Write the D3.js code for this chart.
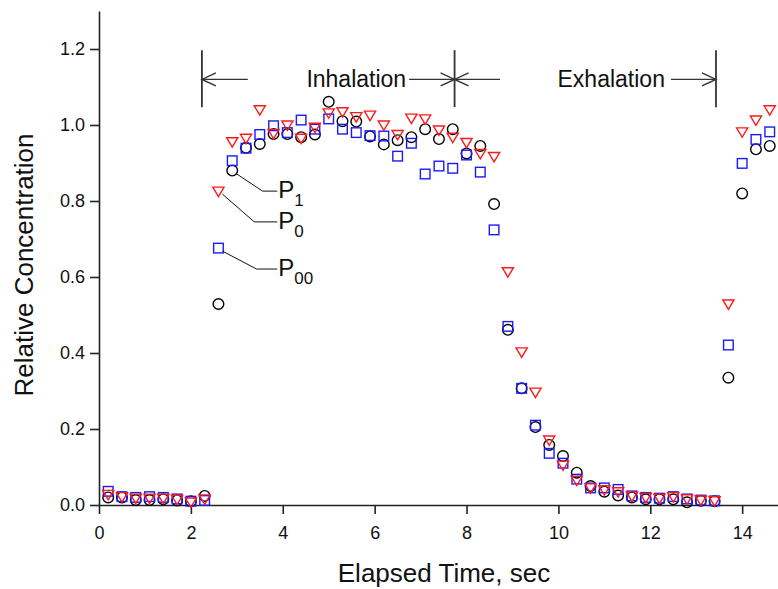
<!DOCTYPE html>
<html>
<head>
<meta charset="utf-8">
<script src="https://cdn.jsdelivr.net/npm/d3@7"></script>
<style>
  body { margin: 0; background: #fff; }
  svg { display: block; font-family: "Liberation Sans", Arial, sans-serif; }
</style>
</head>
<body>
<div id="plotContainer"></div>
<script>
// sampling times (sec)
const times = [0.2, 0.5, 0.8, 1.1, 1.4, 1.7, 2.0, 2.3, 2.6, 2.9, 3.2, 3.5, 3.8, 4.1, 4.4, 4.7,
  5.0, 5.3, 5.6, 5.9, 6.2, 6.5, 6.8, 7.1, 7.4, 7.7, 8.0, 8.3, 8.6, 8.9, 9.2, 9.5, 9.8,
  10.1, 10.4, 10.7, 11.0, 11.3, 11.6, 11.9, 12.2, 12.5, 12.8, 13.1, 13.4, 13.7, 14.0, 14.3, 14.6];

// P1 - black circles
const p1 = [0.020, 0.020, 0.013, 0.013, 0.015, 0.012, 0.010, 0.024, 0.529, 0.880, 0.940, 0.950, 0.976, 0.976, 0.968, 0.975,
  1.061, 1.010, 1.009, 0.970, 0.949, 0.960, 0.968, 0.989, 0.963, 0.989, 0.925, 0.945, 0.792, 0.461, 0.307, 0.205, 0.158,
  0.129, 0.085, 0.050, 0.035, 0.025, 0.020, 0.015, 0.015, 0.015, 0.007, 0.011, 0.010, 0.335, 0.820, 0.936, 0.945];

// P0 - red triangles
const p0 = [0.028, 0.022, 0.018, 0.018, 0.018, 0.015, 0.008, 0.016, 0.826, 0.956, 0.965, 1.040, 0.978, 1.000, 0.965, 0.994,
  1.032, 1.035, 1.022, 1.026, 1.000, 0.975, 1.018, 1.016, 0.987, 0.968, 0.954, 0.925, 0.917, 0.614, 0.403, 0.297, 0.171,
  0.105, 0.065, 0.045, 0.040, 0.035, 0.024, 0.020, 0.018, 0.022, 0.016, 0.013, 0.011, 0.529, 0.982, 1.013, 1.040];

// P00 - blue squares
const p00 = [0.036, 0.022, 0.020, 0.022, 0.020, 0.016, 0.010, 0.012, 0.676, 0.906, 0.939, 0.975, 0.998, 0.980, 1.013, 0.989,
  1.016, 0.989, 0.980, 0.972, 0.971, 0.918, 0.952, 0.871, 0.892, 0.886, 0.921, 0.876, 0.724, 0.470, 0.307, 0.210, 0.136,
  0.110, 0.068, 0.045, 0.045, 0.041, 0.024, 0.020, 0.018, 0.022, 0.016, 0.013, 0.011, 0.421, 0.899, 0.962, 0.982];

const xTicks = [0, 2, 4, 6, 8, 10, 12, 14];
const yTicks = [0.0, 0.2, 0.4, 0.6, 0.8, 1.0, 1.2];

// phase markers (sec) and labels
const phaseBounds = [2.24, 7.74, 13.43];
const phaseLabels = [{text: "Inhalation", x: 5.6}, {text: "Exhalation", x: 11.15}];

// leader callouts: point, elbow, label
const callouts = [
  {name: "P", sub: "1", t: 2.9, v: 0.880, ex: 3.56, ey: 0.826, lx: 3.88},
  {name: "P", sub: "0", t: 2.6, v: 0.826, ex: 3.38, ey: 0.745, lx: 3.88},
  {name: "P", sub: "00", t: 2.6, v: 0.676, ex: 3.43, ey: 0.621, lx: 3.88}
];

const W = 778, H = 589;
const margin = {top: 11, right: 0, bottom: 84, left: 99};

const x = d3.scaleLinear().domain([0, 14.78]).range([margin.left, W - margin.right]);
const y = d3.scaleLinear().domain([0, 1.3]).range([H - margin.bottom, margin.top]);

const svg = d3.select("#plotContainer").append("svg")
  .attr("width", W).attr("height", H);

// axes
const xAxis = d3.axisBottom(x).tickValues(xTicks).tickFormat(d3.format("d")).tickSize(9).tickSizeOuter(0);
const yAxis = d3.axisLeft(y).tickValues(yTicks).tickFormat(d3.format(".1f")).tickSize(9).tickSizeOuter(0);

const gx = svg.append("g").attr("transform", "translate(0," + y(0) + ")").call(xAxis);
const gy = svg.append("g").attr("transform", "translate(" + x(0) + ",0)").call(yAxis);

[gx, gy].forEach(g => {
  g.select(".domain").attr("stroke", "#222").attr("stroke-width", 1.6);
  g.selectAll(".tick line").attr("stroke", "#222").attr("stroke-width", 1.6);
  g.selectAll(".tick text").attr("fill", "#111").style("font-size", "18px")
    .style("font-family", "'Liberation Sans', Arial, sans-serif");
});
gx.selectAll(".tick text").attr("dy", "22px");
gy.selectAll(".tick text").attr("dx", "-2px");

// axis titles
svg.append("text")
  .attr("x", 444).attr("y", 582)
  .attr("text-anchor", "middle")
  .style("font-size", "26px").attr("fill", "#111")
  .text("Elapsed Time, sec");

svg.append("text")
  .attr("transform", "translate(33,265) rotate(-90)")
  .attr("text-anchor", "middle")
  .style("font-size", "26px").attr("fill", "#111")
  .text("Relative Concentration");

// phase annotations
const ann = svg.append("g").attr("stroke", "#333").attr("stroke-width", 1.4).attr("fill", "none");
const yTop = 1.197, yBot = 1.047, yArr = 1.12;
phaseBounds.forEach(b => {
  ann.append("line").attr("x1", x(b)).attr("x2", x(b)).attr("y1", y(yTop)).attr("y2", y(yBot))
    .attr("stroke-width", 1.8);
});

function arrow(from, to) {
  const x1 = x(from), x2 = x(to), yy = y(yArr);
  const dir = Math.sign(x2 - x1);
  ann.append("line").attr("x1", x1).attr("x2", x2).attr("y1", yy).attr("y2", yy);
  ann.append("path")
    .attr("d", "M" + (x2 - dir * 14) + "," + (yy - 6.5) + "L" + x2 + "," + yy + "L" + (x2 - dir * 14) + "," + (yy + 6.5));
}
arrow(3.24, phaseBounds[0]);
arrow(6.75, phaseBounds[1]);
arrow(8.73, phaseBounds[1]);
arrow(12.45, phaseBounds[2]);

phaseLabels.forEach(p => {
  svg.append("text").attr("x", x(p.x)).attr("y", y(yArr) + 8)
    .attr("text-anchor", "middle").style("font-size", "23px").attr("fill", "#111")
    .text(p.text);
});

// markers
const pts = svg.append("g").attr("fill", "none").attr("stroke-width", 1.4);

pts.selectAll("circle.p1").data(times.map((t, i) => [t, p1[i]])).enter()
  .append("circle").attr("class", "p1")
  .attr("cx", d => x(d[0])).attr("cy", d => y(d[1])).attr("r", 5.3)
  .attr("stroke", "#000");

pts.selectAll("rect.p00").data(times.map((t, i) => [t, p00[i]])).enter()
  .append("rect").attr("class", "p00")
  .attr("x", d => x(d[0]) - 4.8).attr("y", d => y(d[1]) - 4.8)
  .attr("width", 9.6).attr("height", 9.6)
  .attr("stroke", "#1a1aff");

const tri = "M-5.6,-4L5.6,-4L0,5.4Z";
pts.selectAll("path.p0").data(times.map((t, i) => [t, p0[i]])).enter()
  .append("path").attr("class", "p0")
  .attr("transform", d => "translate(" + x(d[0]) + "," + y(d[1]) + ")")
  .attr("d", tri)
  .attr("stroke", "#ff1a1a");

// callouts
const co = svg.append("g");
callouts.forEach(c => {
  co.append("polyline")
    .attr("points", [[x(c.t) + 4, y(c.v) + 3], [x(c.ex), y(c.ey)], [x(c.lx), y(c.ey)]].map(p => p.join(",")).join(" "))
    .attr("fill", "none").attr("stroke", "#111").attr("stroke-width", 1);
  const t = co.append("text").attr("x", x(c.lx) + 1).attr("y", y(c.ey) + 7)
    .style("font-size", "24px").attr("fill", "#111");
  t.append("tspan").text(c.name);
  t.append("tspan").attr("dy", 8).style("font-size", "17px").text(c.sub);
});
</script>
</body>
</html>
